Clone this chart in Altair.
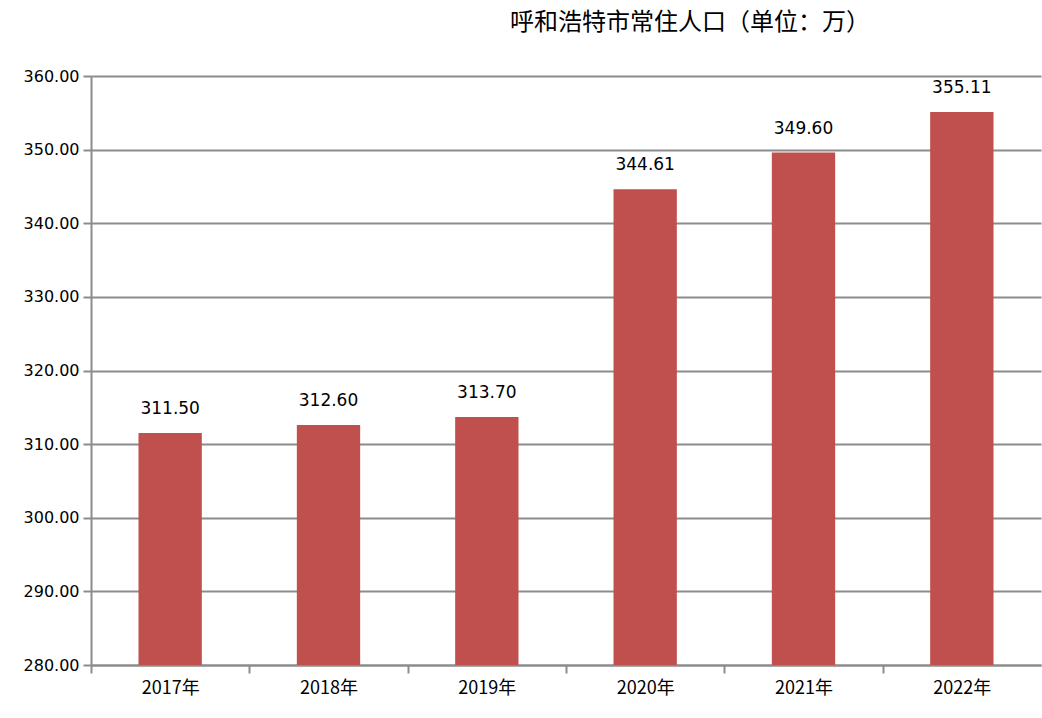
import altair as alt
import pandas as pd

years = ["2017年", "2018年", "2019年", "2020年", "2021年", "2022年"]
population = [311.50, 312.60, 313.70, 344.61, 349.60, 355.11]
y_ticks = [280, 290, 300, 310, 320, 330, 340, 350, 360]
title_text = "呼和浩特市常住人口（单位：万）"

df = pd.DataFrame({"year": years, "pop": population})

GRID = "#8c8c8c"
BAR = "#C0504D"
PLOT_W = 950
HALF_STEP = PLOT_W / 6 / 2

x = alt.X("year:N", sort=years, title=None,
          scale=alt.Scale(paddingInner=0.6, paddingOuter=0.3),
          axis=alt.Axis(labelAngle=0, labelFont="Noto Sans CJK SC",
                        labelFontSize=18, labelColor="#000000", labelPadding=6,
                        tickOffset=-HALF_STEP, labelOffset=HALF_STEP,
                        domainColor=GRID, domainWidth=2, tickColor=GRID, tickWidth=2,
                        tickSize=8, grid=False))
y = alt.Y("pop:Q", title=None,
          scale=alt.Scale(domain=[280, 360], zero=False, nice=False),
          axis=alt.Axis(values=y_ticks, format=".2f", labelFont="DejaVu Sans",
                        labelFontSize=16, labelColor="#000000", labelPadding=4,
                        domainColor=GRID, domainWidth=2, tickColor=GRID, tickWidth=2,
                        tickSize=8, gridColor=GRID, gridWidth=2))

bars = alt.Chart(df).mark_bar(color=BAR, clip=True).encode(x=x, y=y)
labels = alt.Chart(df).mark_text(font="DejaVu Sans", fontSize=17, color="#000000",
                                 baseline="bottom", dy=-15).encode(
    x=alt.X("year:N", sort=years),
    y=alt.Y("pop:Q"),
    text=alt.Text("pop:Q", format=".2f"))

chart = (bars + labels).properties(
    width=PLOT_W, height=589,
    autosize=alt.AutoSizeParams(type="none"),
    padding={"left": 91, "top": 76, "right": 1, "bottom": 53},
    title=alt.TitleParams(title_text, font="Noto Sans CJK SC", fontSize=24,
                          fontWeight="normal", color="#000000", anchor="middle",
                          frame="group", dx=124, offset=33),
).configure_view(stroke=None)

chart.save("out.html", embed_options={"renderer": "svg", "actions": False})
